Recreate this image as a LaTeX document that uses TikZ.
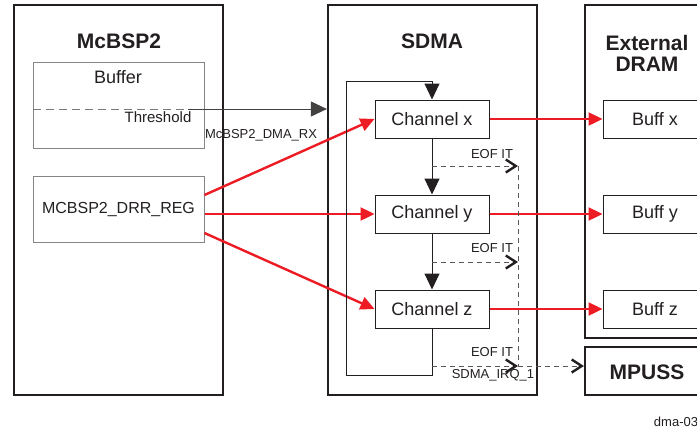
\documentclass[tikz,border=0pt]{standalone}
\usepackage{fontspec}
\setmainfont{Liberation Sans}
\usetikzlibrary{arrows.meta}
\definecolor{tired}{HTML}{ED1C24}
\definecolor{ink}{HTML}{231F20}
\newcommand{\tinyfont}{\fontsize{6.5}{7.5}\selectfont}
\begin{document}
\begin{tikzpicture}[x=0.5pt,y=-0.5pt,font=\fontsize{9}{10}\selectfont,text=ink,
    block/.style={draw=ink,line width=1.1pt,inner sep=0pt},
    unit/.style={draw=ink,line width=0.5pt,inner sep=0pt,
        minimum width=57pt,minimum height=19pt},
    regbox/.style={draw=ink!55,line width=0.5pt,inner sep=0pt,minimum width=85.5pt},
    title/.style={font=\bfseries\fontsize{10.5}{10.5}\selectfont,align=center},
    small/.style={font=\tinyfont,inner sep=0pt},
    flow/.style={draw=ink,line width=0.5pt,-{Triangle[length=8pt,width=7.5pt]}},
    redarr/.style={draw=tired,line width=1.2pt,-{Triangle[length=7pt,width=6.5pt]}},
    eof/.style={draw=ink!75,line width=0.5pt,dash pattern=on 2.5pt off 2pt,
        -{Straight Barb[length=5pt,width=6.5pt,line width=1.2pt,color=ink]}}]
    \clip (0,0) rectangle (697,429);
    \fill[white] (0,0) rectangle (697,429);

    % outer blocks
    \node[block,minimum width=104.5pt,minimum height=195pt] (mcbsp) at (118.5,200) {};
    \node[block,minimum width=104.5pt,minimum height=195pt] (sdma) at (432.5,200) {};
    \node[block,minimum width=105pt,minimum height=166.5pt] (dram) at (690,171.5) {};
    \node[block,minimum width=105pt,minimum height=24pt] (mpuss) at (690,371) {};
    \node[title] (mcbsp-t) at (119,41) {McBSP2};
    \node[title] (sdma-t) at (432,41) {SDMA};
    \node[title] (dram-t) at (647,53) {External\\DRAM};
    \node[title] (mpuss-t) at (647,372) {MPUSS};

    % McBSP2 registers
    \node[regbox,minimum height=43pt] (buf) at (118.5,105) {};
    \node (buf-t) at (118,77) {Buffer};
    \node[regbox,minimum height=33pt] (drr) at (118.5,209)
        {\fontsize{8}{9}\selectfont MCBSP2\_DRR\_REG};

    % channels and buffers
    \foreach \ch/\y in {x/119,y/214,z/309}{
        \node[unit] (ch\ch) at (432,\y) {Channel \ch};
        \node[unit,minimum width=52pt] (bf\ch) at (655,\y) {Buff \ch};
        \draw[redarr] (ch\ch.east) -- (bf\ch.west);
    }

    % threshold request
    \coordinate (thr) at (33,109);
    \coordinate (thr-end) at (188,109);
    \draw[draw=ink!60,line width=0.5pt,dash pattern=on 4pt off 2.5pt] (thr) -- (thr-end);
    \draw[flow,draw=ink!85] (thr-end) -- (thr-end -| sdma.west);
    \node[font=\fontsize{7.5}{8.5}\selectfont,inner sep=0pt] (thr-t) at (158,117) {Threshold};
    \node[small] (dmarx-t) at (261,135) {McBSP2\_DMA\_RX};

    % red requests
    \draw[redarr] ([yshift=7pt]drr.east) -- (chx.west);
    \draw[redarr] (drr.east |- chy.west) -- (chy.west);
    \draw[redarr] ([yshift=-12pt]drr.east) -- (chz.west);

    % channel chaining
    \draw[flow] (chx.south) -- (chy.north);
    \draw[flow] (chy.south) -- (chz.north);
    \coordinate (lp-b) at (346,375);
    \coordinate (lp-t) at (346,81);
    \draw[flow] (chz.south) |- (lp-b) -- (lp-t) -| (chx.north);

    % end of frame interrupts
    \coordinate (e1) at (432,166);
    \coordinate (e2) at (432,262);
    \coordinate (e3) at (432,366);
    \coordinate (c1) at (518,166);
    \coordinate (c2) at (518,262);
    \coordinate (c3) at (518,366);
    \draw[eof] (e1) -- (c1);
    \draw[eof] (e2) -- (c2);
    \draw[eof] (e3) -- (c3);
    \draw[draw=ink!75,line width=0.5pt,dash pattern=on 2.5pt off 2pt] (c1) -- (c3);
    \draw[eof] (c3) -- (c3 -| mpuss.west);
    \foreach \n/\y in {1/154,2/248,3/352}
        \node[small] (eof\n-t) at (492,\y) {EOF IT};
    \node[small] (irq-t) at (493,375) {SDMA\_IRQ\_1};

    \node[small] (fig-t) at (676,422) {dma-03};
\end{tikzpicture}
\end{document}
